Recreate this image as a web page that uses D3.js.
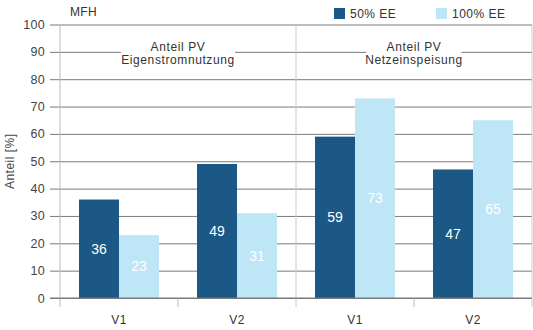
<!DOCTYPE html>
<html>
<head>
<meta charset="utf-8">
<script src="https://cdn.jsdelivr.net/npm/d3@7"></script>
<style>
  body { margin: 0; background: #fff; }
  text { font-family: "Liberation Sans", Arial, sans-serif; }
</style>
</head>
<body>
<div id="chart"></div>
<script>
// Data
const groups = ["Eigenstromnutzung", "Netzeinspeisung"];
const groupTitles = [["Anteil PV", "Eigenstromnutzung"], ["Anteil PV", "Netzeinspeisung"]];
const variants = ["V1", "V2"];
const series = ["50% EE", "100% EE"];
const values50 = [36, 49, 59, 47];
const values100 = [23, 31, 73, 65];
const yTicks = [0, 10, 20, 30, 40, 50, 60, 70, 80, 90, 100];
const colors = ["#1b5886", "#bfe6f7"];

const W = 533, H = 330;
const margin = {top: 24.5, right: 1, bottom: 32, left: 60};
const width = W - margin.left - margin.right,
      height = H - margin.top - margin.bottom;

const svg = d3.select("#chart")
    .append("svg")
    .attr("width", W)
    .attr("height", H);

const g = svg.append("g")
    .attr("transform", `translate(${margin.left},${margin.top})`);

// categories along x: group/variant
const cats = [];
groups.forEach(gr => variants.forEach(v => cats.push(gr + "|" + v)));

const x = d3.scaleBand()
    .domain(cats)
    .range([0, width]);

const xInner = d3.scaleBand()
    .domain(series)
    .range([0, x.bandwidth()])
    .paddingOuter(0.475)
    .paddingInner(0);

const y = d3.scaleLinear()
    .domain([0, 100])
    .range([height, 0]);

// horizontal grid + y tick labels
const yAxis = g.append("g")
    .call(d3.axisLeft(y).tickValues(yTicks).tickSize(-width).tickSizeOuter(0).tickPadding(15));
yAxis.select(".domain").remove();
yAxis.selectAll(".tick line")
    .attr("x1", -10)
    .attr("stroke", "#7a7a7a")
    .attr("stroke-width", 1);
yAxis.selectAll(".tick text")
    .attr("fill", "#444")
    .attr("font-size", 12.5)
    .attr("letter-spacing", 0.3);

// vertical frame lines
g.append("line")
    .attr("x1", 0).attr("x2", 0)
    .attr("y1", 0).attr("y2", height + 9)
    .attr("stroke", "#bbb");
g.append("line")
    .attr("x1", width).attr("x2", width)
    .attr("y1", 0).attr("y2", height + 9)
    .attr("stroke", "#ccc");
g.append("line")
    .attr("x1", x(cats[2])).attr("x2", x(cats[2]))
    .attr("y1", 0).attr("y2", height + 9)
    .attr("stroke", "#ccc");
g.append("line")
    .attr("x1", x(cats[1])).attr("x2", x(cats[1]))
    .attr("y1", height).attr("y2", height + 9)
    .attr("stroke", "#bbb");
g.append("line")
    .attr("x1", x(cats[3])).attr("x2", x(cats[3]))
    .attr("y1", height).attr("y2", height + 9)
    .attr("stroke", "#bbb");

// group titles with white background
groups.forEach((gr, i) => {
    const cx = x(cats[i * 2]) + x.bandwidth();
    const bw = i === 0 ? 114 : 95;
    g.append("rect")
        .attr("x", cx - bw / 2)
        .attr("y", y(90) - 11)
        .attr("width", bw)
        .attr("height", 27)
        .attr("fill", "#fff");
    groupTitles[i].forEach((t, j) => {
        g.append("text")
            .attr("x", cx)
            .attr("y", y(90) - 1 + j * 13)
            .attr("text-anchor", "middle")
            .attr("fill", "#333")
            .attr("font-size", 12)
            .attr("letter-spacing", 0.6)
            .text(t);
    });
});

// bars
const rows = cats.map((c, i) => ({cat: c, vals: [values50[i], values100[i]]}));
const grp = g.selectAll(".grp")
    .data(rows)
    .enter()
    .append("g")
    .attr("transform", d => `translate(${x(d.cat)},0)`);

grp.selectAll("rect")
    .data(d => d.vals.map((v, k) => ({s: series[k], v: v, k: k})))
    .enter()
    .append("rect")
    .attr("x", d => xInner(d.s))
    .attr("y", d => y(d.v))
    .attr("width", xInner.bandwidth())
    .attr("height", d => height - y(d.v))
    .attr("fill", d => colors[d.k]);

grp.selectAll(".val")
    .data(d => d.vals.map((v, k) => ({s: series[k], v: v, k: k})))
    .enter()
    .append("text")
    .attr("x", d => xInner(d.s) + xInner.bandwidth() / 2)
    .attr("y", d => y(d.v / 2))
    .attr("dy", "0.35em")
    .attr("text-anchor", "middle")
    .attr("fill", "#fff")
    .attr("font-size", 14)
    .text(d => d.v);

// baseline
g.append("line")
    .attr("x1", -10).attr("x2", width)
    .attr("y1", height).attr("y2", height)
    .attr("stroke", "#7a7a7a");

// x labels
g.selectAll(".xl")
    .data(cats)
    .enter()
    .append("text")
    .attr("x", d => x(d) + x.bandwidth() / 2)
    .attr("y", height + 26)
    .attr("text-anchor", "middle")
    .attr("fill", "#333")
    .attr("font-size", 12)
    .attr("letter-spacing", 0.5)
    .text(d => d.split("|")[1]);

// y axis title
svg.append("text")
    .attr("transform", `translate(14,${margin.top + height / 2}) rotate(-90)`)
    .attr("text-anchor", "middle")
    .attr("fill", "#444")
    .attr("font-size", 12)
    .attr("letter-spacing", 0.5)
    .text("Anteil [%]");

// MFH
svg.append("text")
    .attr("x", 70).attr("y", 16)
    .attr("fill", "#333")
    .attr("font-size", 12)
    .attr("letter-spacing", 0.3)
    .text("MFH");

// legend
const legX = [334, 436];
series.forEach((s, i) => {
    svg.append("rect")
        .attr("x", legX[i]).attr("y", 8)
        .attr("width", 11).attr("height", 11)
        .attr("fill", colors[i]);
    svg.append("text")
        .attr("x", legX[i] + 16).attr("y", 18)
        .attr("fill", "#333")
        .attr("font-size", 12)
        .attr("letter-spacing", 0.5)
        .text(s);
});
</script>
</body>
</html>
